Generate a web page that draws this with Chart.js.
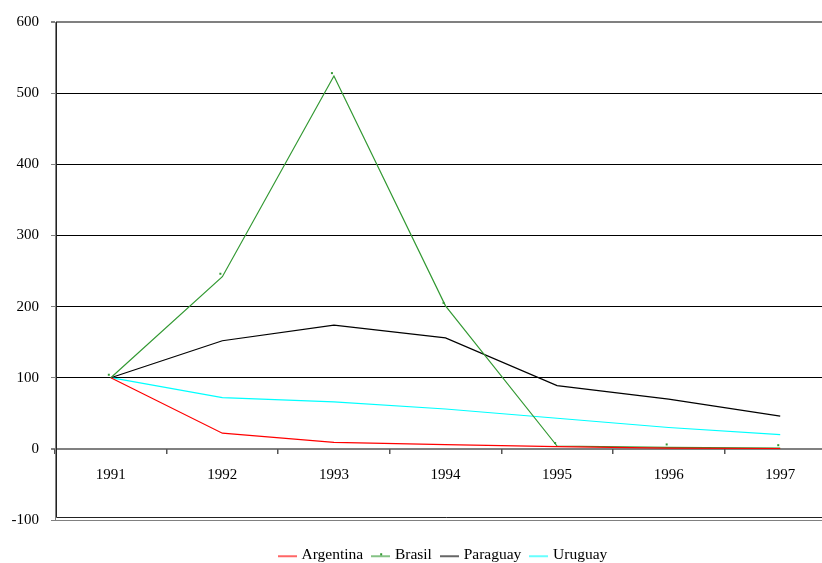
<!DOCTYPE html>
<html>
<head>
<meta charset="utf-8">
<script src="https://cdn.jsdelivr.net/npm/chart.js@4/dist/chart.umd.min.js"></script>
<style>
  html, body { margin: 0; padding: 0; overflow: hidden; background: #fff; }
  #wrap { width: 888px; height: 573px; }
</style>
</head>
<body>
<div id="wrap"><canvas id="c" width="888" height="573"></canvas></div>
<script>
// Index values, 1991 = 100
const years     = ['1991', '1992', '1993', '1994', '1995', '1996', '1997'];
const argentina = [100, 22, 9, 6, 3, 1, 0.5];
const brasil    = [100, 242, 524, 201, 4, 2, 1];
const paraguay  = [100, 152, 174, 156, 89, 70, 46];
const uruguay   = [100, 72, 66, 56, 43, 30, 20];
const yMin = -100, yMax = 600, yStep = 100;

const seriesNames  = ['Argentina', 'Brasil', 'Paraguay', 'Uruguay'];
const seriesColors = ['#ff0000', '#339933', '#000000', '#00ffff'];

const FONT = "'Liberation Serif', 'Times New Roman', serif";

// small square marker sitting up and left of the data point
function makeMarker(color) {
  const c = document.createElement('canvas');
  c.width = 12; c.height = 12;
  const g = c.getContext('2d');
  g.fillStyle = color;
  g.fillRect(3, 2, 2, 2);
  return c;
}

// legend key: short line, with the marker for series that have one
function makeKey(color, withDot) {
  const c = document.createElement('canvas');
  c.width = 19; c.height = 8;
  const g = c.getContext('2d');
  g.strokeStyle = color;
  g.globalAlpha = 0.6;
  g.lineWidth = 2;
  g.beginPath(); g.moveTo(0, 5); g.lineTo(19, 5); g.stroke();
  if (withDot) { g.globalAlpha = 1; g.fillStyle = color; g.fillRect(9, 2, 2, 2); }
  return c;
}
const keys = seriesColors.map((col, i) => makeKey(col, i === 1));

// double frame on the left and bottom of the plot area
const framePlugin = {
  id: 'frame',
  beforeDatasetsDraw(chart) {
    const { ctx, chartArea: a } = chart;
    ctx.save();
    ctx.strokeStyle = '#222';
    ctx.lineWidth = 1;
    ctx.beginPath();
    ctx.moveTo(a.left + 1.5, a.top);
    ctx.lineTo(a.left + 1.5, a.bottom - 2.5);
    ctx.lineTo(a.right, a.bottom - 2.5);
    ctx.stroke();
    ctx.restore();
  }
};

const values = [argentina, brasil, paraguay, uruguay];
const datasets = values.map((data, i) => ({
  label: seriesNames[i],
  data,
  borderColor: seriesColors[i],
  backgroundColor: seriesColors[i],
  borderWidth: 1.2,
  tension: 0,
  fill: false,
  pointRadius: i === 1 ? 3 : 0,
  pointHoverRadius: i === 1 ? 3 : 0,
  pointStyle: i === 1 ? makeMarker(seriesColors[i]) : 'circle'
}));

new Chart(document.getElementById('c'), {
  type: 'line',
  data: { labels: years, datasets },
  plugins: [framePlugin],
  options: {
    responsive: false,
    animation: false,
    events: [],
    layout: { padding: { top: 22, left: 0, right: 0, bottom: 0 } },
    scales: {
      y: {
        min: yMin, max: yMax,
        afterFit(s) { s.width = 55; },
        ticks: { stepSize: yStep, color: '#000', padding: 12, font: { family: FONT, size: 15 } },
        grid: {
          color: (c) => {
            const v = c.tick ? c.tick.value : null;
            return (v === 0 || v === yMax || v === yMin) ? '#808080' : '#000';
          },
          lineWidth: (c) => {
            const v = c.tick ? c.tick.value : null;
            return (v === 0 || v === yMax) ? 2 : 1;
          },
          tickColor: '#808080',
          tickLength: 4
        },
        border: { display: true, color: '#808080', width: 1 }
      },
      x: {
        type: 'category',
        position: { y: 0 },
        offset: true,
        ticks: { color: '#000', padding: 12, maxRotation: 0, font: { family: FONT, size: 15 } },
        grid: { offset: true, drawOnChartArea: false, drawTicks: true, tickLength: 5, color: '#555', lineWidth: 1.5 },
        border: { display: false }
      },
      padRight: {
        type: 'linear', position: 'right', display: true,
        afterFit(s) { s.width = 52; },
        ticks: { display: false }, grid: { display: false }, border: { display: false }
      },
      padBottom: {
        type: 'category', axis: 'x', position: 'bottom', display: true,
        afterFit(s) { s.height = 16.5; },
        ticks: { display: false }, grid: { display: false }, border: { display: false }
      }
    },
    plugins: {
      tooltip: { enabled: false },
      legend: {
        position: 'bottom',
        labels: {
          usePointStyle: true,
          pointStyleWidth: 13,
          boxHeight: 8,
          padding: 11,
          color: '#000',
          font: { family: FONT, size: 15.5 },
          generateLabels(chart) {
            const items = Chart.defaults.plugins.legend.labels.generateLabels(chart);
            items.forEach((it, i) => { it.pointStyle = keys[i]; });
            return items;
          }
        }
      }
    }
  }
});
</script>
</body>
</html>
